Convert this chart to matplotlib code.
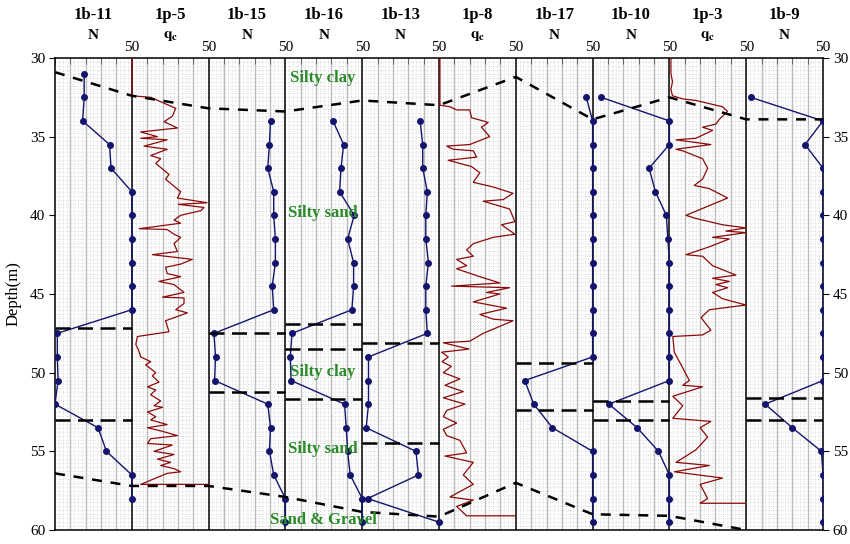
import numpy as np
import matplotlib
matplotlib.use("Agg")
import matplotlib.pyplot as plt
from matplotlib.transforms import blended_transform_factory

plt.rcParams['font.family'] = ['Liberation Serif', 'DejaVu Serif']
plt.rcParams['mathtext.fontset'] = 'stix'

panel_names = ['1b-11', '1p-5', '1b-15', '1b-16', '1b-13', '1p-8', '1b-17', '1b-10', '1p-3', '1b-9']
panel_kinds = ['N', 'qc', 'N', 'N', 'N', 'qc', 'N', 'N', 'qc', 'N']

# SPT blow counts (N), depth in m
depth_1b11 = [31, 32.5, 34, 35.5, 37, 38.5, 40, 41.5, 43, 44.5, 46, 47.5, 49, 50.5, 52, 53.5, 55, 56.5, 58]
n_1b11 = [19, 19, 18, 35.5, 36.5, 50, 50, 50, 50, 50, 50, 1.5, 1.5, 2, 0, 28, 33.5, 50, 50]

depth_1b15 = [34, 35.5, 37, 38.5, 40, 41.5, 43, 44.5, 46, 47.5, 49, 50.5, 52, 53.5, 55, 56.5, 58, 59.5]
n_1b15 = [40.3, 39.6, 38.5, 42.4, 42.4, 43.5, 43.5, 41.4, 42.4, 3.5, 4.5, 3.9, 38.5, 40.3, 39.6, 42.4, 50, 50]

depth_1b16 = [34, 35.5, 37, 38.5, 40, 41.5, 43, 44.5, 46, 47.5, 49, 50.5, 52, 53.5, 55, 56.5, 58, 59.5]
n_1b16 = [31, 37.9, 36.2, 35.3, 44.8, 40.5, 44.4, 44.4, 43.3, 4.3, 3.2, 3.7, 38.5, 39.6, 40.5, 42.2, 50, 50]

depth_1b13 = [34, 35.5, 37, 38.5, 40, 41.5, 43, 44.5, 46, 47.5, 49, 50.5, 52, 53.5, 55, 56.5, 58, 59.5]
n_1b13 = [37.7, 39.4, 39.4, 42.4, 41.4, 41.4, 43.1, 41.4, 41.4, 42.4, 4.1, 4.1, 4.1, 2.6, 35, 36.6, 3.5, 50]

depth_1b17 = [32.5, 34, 35.5, 37, 38.5, 40, 41.5, 43, 44.5, 46, 47.5, 49, 50.5, 52, 53.5, 55, 56.5, 58, 59.5]
n_1b17 = [45.9, 50, 50, 50, 50, 50, 50, 50, 50, 50, 50, 50, 5.8, 11.7, 23.8, 50, 50, 50, 50]

depth_1b10 = [32.5, 34, 35.5, 37, 38.5, 40, 41.5, 43, 44.5, 46, 47.5, 49, 50.5, 52, 53.5, 55, 56.5, 58, 59.5]
n_1b10 = [5.6, 50, 50, 36.8, 40.9, 48, 49, 50, 50, 50, 50, 50, 50, 10.6, 29, 42.9, 50, 50, 50]

depth_1b9 = [32.5, 34, 35.5, 37, 38.5, 40, 41.5, 43, 44.5, 46, 47.5, 49, 50.5, 52, 53.5, 55, 56.5, 58, 59.5]
n_1b9 = [3, 50, 38.3, 50, 50, 50, 50, 50, 50, 50, 50, 50, 50, 12.3, 30, 49, 50, 50, 50]

# CPT cone resistance (qc)
depth_1p5 = [30, 32.4, 32.5, 33.2, 33.7, 34.05, 34.45, 34.7, 35.0, 35.1, 35.2, 35.6, 35.8, 36.2, 36.4, 36.7,
             37.4, 37.7, 38.5, 38.9, 39.2, 39.3, 39.5, 39.7, 40.0, 40.3, 40.5, 40.85, 40.9, 41.2, 41.4, 41.8,
             42.3, 42.5, 42.8, 43.1, 43.3, 43.7, 43.9, 44.2, 44.4, 44.9, 45.2, 45.25, 45.6, 46.0, 46.2, 46.7,
             47.4, 47.7, 48.2, 48.6, 49.0, 49.3, 49.5, 50.0, 50.2, 50.6, 50.9, 51.1, 51.4, 51.8, 52.1, 52.2,
             52.5, 52.8, 53.0, 53.3, 53.5, 53.7, 54.0, 54.2, 54.5, 54.6, 55.0, 55.2, 55.5, 55.7, 55.9, 56.1,
             56.3, 56.4, 57.1, 57.1]
qc_1p5 = [0, 0, 12.3, 28.6, 26.4, 21, 29.7, 5.8, 16.7, 5.8, 23, 8, 23, 12.3, 18.8, 15.6,
          24.2, 22, 31.8, 29.7, 49, 30.3, 47, 45, 31.8, 27.5, 31.8, 4.8, 23, 27.5, 31.8, 27.5,
          29.7, 13.4, 39.4, 31.8, 22, 23, 31.8, 17.7, 27.5, 34, 20, 34, 34, 28.6, 36.2, 22,
          24.2, 3.7, 2.6, 4.5, 5.8, 12.3, 9, 15.6, 13.4, 17.7, 10.2, 15.6, 12.3, 18.8, 14.5, 20,
          10.2, 15.6, 12.3, 23, 10.2, 18.8, 29.7, 12.3, 10.2, 26.4, 14.5, 27.5, 16.7, 25.3, 18.8, 27.5,
          31.8, 23, 5.8, 50]

depth_1p8 = [30, 33.0, 33.1, 33.3, 33.3, 33.8, 34.0, 34.1, 34.4, 35.0, 35.5, 35.6, 35.8, 35.9, 36.3, 36.5,
             36.9, 37.3, 37.9, 38.2, 38.6, 39.0, 39.1, 39.6, 40.4, 40.6, 41.2, 41.4, 41.8, 42.2, 42.6, 42.8,
             43.2, 43.4, 43.9, 44.3, 44.5, 44.6, 44.9, 45.0, 45.5, 45.9, 46.3, 46.6, 46.7, 47.5, 48.0, 48.1,
             48.5, 48.7, 49.0, 49.3, 49.6, 50.0, 50.4, 50.8, 51.2, 51.6, 52.0, 52.4, 52.8, 53.2, 53.6, 54.0,
             54.3, 55.1, 55.3, 55.7, 56.5, 57.1, 57.9, 58.1, 58.5, 59.1, 59.1]
qc_1p8 = [0.6, 0.6, 7.1, 11.5, 20, 21.2, 28.8, 32, 27.7, 33, 20, 5, 9.3, 22.3, 24.5, 6,
          21.2, 26.6, 22.3, 35.3, 48.2, 41.8, 28.8, 46, 49.4, 40.7, 49.4, 35.3, 22.3, 18, 22.3, 11.5,
          18, 11.5, 26.6, 39.6, 8.2, 46, 31, 39.6, 22.3, 44, 26.6, 35.3, 48.2, 28.8, 20, 2.8,
          19.5, 1.7, 6, 2, 8, 2.8, 13.6, 3.9, 15.8, 2.8, 16.9, 5, 2.8, 11.5, 2.8, 5,
          13.6, 18, 3.9, 22.3, 15.8, 22.3, 7.1, 22.3, 11.5, 18, 49.4]

depth_1p3 = [30, 31, 31.5, 32, 32.4, 32.6, 32.7, 32.9, 33.1, 33.4, 33.7, 33.9, 34.2, 34.4, 34.6, 35.1,
             35.2, 35.5, 35.8, 35.9, 36.4, 37.0, 37.7, 38.1, 38.3, 38.9, 40.0, 40.2, 40.6, 40.8, 41.0, 41.1,
             41.4, 41.5, 42.0, 42.5, 42.6, 43.2, 43.8, 44.0, 44.2, 44.4, 44.6, 44.9, 45.3, 45.7, 46.0, 46.5,
             47.3, 47.6, 47.7, 48.7, 49.7, 50.5, 50.8, 50.9, 51.5, 52.1, 52.9, 53.1, 53.5, 54.1, 54.9, 55.7,
             55.9, 56.3, 56.7, 57.1, 58.0, 58.3, 58.3]
qc_1p3 = [1, 1, 2, 1, 2, 8.7, 17.3, 26, 34.6, 37.9, 34.6, 32.5, 30.3, 21.6, 28.1, 17.3,
          4.3, 27, 4.3, 8.7, 21.6, 24.9, 21.6, 16.2, 26, 37.9, 10.8, 17.3, 34.6, 49.8, 36.8, 49.8,
          28.1, 39, 26, 10.8, 21.6, 28.1, 43.3, 28.1, 39, 30.3, 37.9, 28.1, 34.6, 49.8, 26, 20.6,
          27, 21.6, 2.2, 3.2, 8.7, 13, 8.7, 21.6, 2.2, 8.7, 2.2, 27, 20, 24.9, 17.3, 4.3,
          26, 3.2, 34.6, 20, 24.9, 20, 49.8]

spt_data = {
    0: (depth_1b11, n_1b11), 2: (depth_1b15, n_1b15), 3: (depth_1b16, n_1b16),
    4: (depth_1b13, n_1b13), 6: (depth_1b17, n_1b17), 7: (depth_1b10, n_1b10),
    9: (depth_1b9, n_1b9),
}
cpt_data = {1: (depth_1p5, qc_1p5), 5: (depth_1p8, qc_1p8), 8: (depth_1p3, qc_1p3)}

# strata boundaries traced across the panels (panel edge index, depth)
upper_edge = [0, 1, 2, 3, 4, 5, 6, 7, 8, 9, 10]
upper_depth = [30.9, 32.4, 33.2, 33.4, 32.7, 33.0, 31.2, 33.9, 32.5, 33.9, 33.9]
lower_edge = [0, 1, 2, 3, 4, 5, 6, 7, 8, 9]
lower_depth = [56.4, 57.2, 57.2, 57.9, 58.85, 59.15, 57.0, 59.0, 59.1, 60.0]

# boundaries found in single boreholes
local_panel = [0, 0, 2, 2, 3, 3, 3, 4, 4, 6, 6, 7, 7, 9, 9]
local_depth = [47.15, 53.0, 47.45, 51.2, 46.9, 48.5, 51.7, 48.1, 54.5, 49.4, 52.4, 51.8, 53.0, 51.6, 53.0]

layer_names = ['Silty clay', 'Silty sand', 'Silty clay', 'Silty sand', 'Sand & Gravel']
layer_depth = [31.3, 39.85, 49.95, 54.85, 59.35]

PW = 50  # width of one panel in axis units
navy = '#14146e'
red = '#8b0a0a'

fig = plt.figure(figsize=(8.5, 5.44), dpi=100)
ax = fig.add_axes([55 / 850, 14 / 544, 768 / 850, 472 / 544])
ax.set_xlim(0, PW * 10)
ax.set_ylim(60, 30)

# background grid
ax.vlines(np.arange(0, PW * 10, 2.5), 30, 60, colors='#d0d0d0', lw=0.6, linestyles=(0, (1, 2)), zorder=0)
ax.hlines(np.arange(30, 60, 0.25), 0, PW * 10, colors='#d0d0d0', lw=0.6, linestyles=(0, (1, 2)), zorder=0)
for i in range(10):
    for v in (10, 20, 30, 40):
        ax.axvline(i * PW + v, color='#bcbcbc', lw=1, zorder=1)
    if i > 0:
        ax.axvline(i * PW, color='black', lw=1.1, zorder=2)

for i, (d, n) in spt_data.items():
    ax.plot(np.array(n) + i * PW, d, color=navy, lw=1, marker='o', ms=4, zorder=4)
for i, (d, q) in cpt_data.items():
    ax.plot(np.array(q) + i * PW, d, color=red, lw=0.9, zorder=3)

ax.plot(np.array(upper_edge) * PW, upper_depth, color='black', lw=1.8, ls=(0, (4, 3.5)), zorder=5)
ax.plot(np.array(lower_edge) * PW, lower_depth, color='black', lw=1.8, ls=(0, (4, 3.5)), zorder=5)
for p, d in zip(local_panel, local_depth):
    ax.plot([p * PW, (p + 1) * PW], [d, d], color='black', lw=1.8, ls=(0, (6, 3)), zorder=5)

# soil layer names, written in the middle of panels 4-5
for name, d in zip(layer_names, layer_depth):
    ax.text(3.5 * PW - 0.5, d, name, color='#2a8a2a', fontsize=12, fontweight='bold',
            ha='center', va='center', zorder=6)

# titles above each panel
tr = blended_transform_factory(ax.transData, ax.transAxes)
for i, (name, kind) in enumerate(zip(panel_names, panel_kinds)):
    ax.text(i * PW + PW / 2, 1.091, name, transform=tr, ha='center', va='center',
            fontsize=12, fontweight='bold')
    sub = 'N' if kind == 'N' else r'$\mathbf{q}_\mathbf{c}$'
    ax.text(i * PW + PW / 2, 1.047, sub, transform=tr, ha='center', va='center',
            fontsize=11, fontweight='bold')

ax.xaxis.set_ticks_position('top')
ax.set_xticks(np.arange(PW, PW * 10 + 1, PW))
ax.set_xticklabels(['50'] * 10, fontsize=11)
ax.set_xticks(np.arange(0, PW * 10, 10), minor=True)
ax.tick_params(axis='x', which='major', length=0, pad=3)
ax.tick_params(axis='x', which='minor', direction='in', length=4, color='#555555')

ax.set_yticks(np.arange(30, 61, 5))
ax.tick_params(axis='y', which='major', labelsize=11, direction='out', length=4, right=True,
               labelright=True)
ax.yaxis.set_tick_params(which='major', pad=3)
ax.set_ylabel('Depth(m)', fontsize=12, labelpad=6)
for s in ax.spines.values():
    s.set_linewidth(1.1)

fig.savefig('out.png', dpi=100)
